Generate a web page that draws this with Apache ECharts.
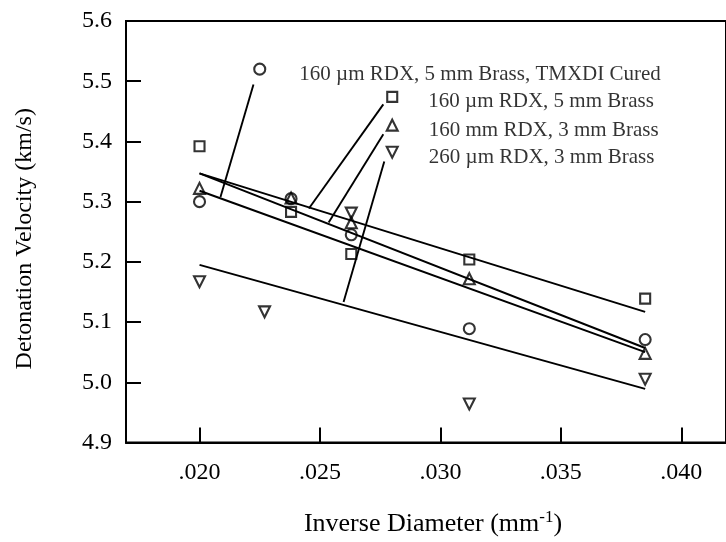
<!DOCTYPE html>
<html><head><meta charset="utf-8">
<script src="https://cdn.jsdelivr.net/npm/echarts@6/dist/echarts.min.js"></script>
<style>html,body{margin:0;padding:0;background:#fff}#c{width:726px;height:542px}</style>
</head><body><div id="c"></div>
<script>
// Inverse diameter columns (1/50, 1/42, 1/38, 1/32, 1/26 mm^-1)
const diameterX = [0.0200, 0.0238, 0.0263, 0.0312, 0.0385];
const downTriX  = [0.0200, 0.0227, 0.0263, 0.0312, 0.0385];
// Measured detonation velocities (km/s)
const squareY   = [5.392, 5.283, 5.213, 5.204, 5.139];
const triangleY = [5.322, 5.306, 5.265, 5.172, 5.048];
const circleY   = [5.300, 5.305, 5.245, 5.089, 5.071];
const downTriY  = [5.167, 5.117, 5.281, 4.964, 5.005];
// Fitted lines (end points)
const fitX        = [0.0200, 0.0385];
const fitSquare   = [5.347, 5.117];
const fitTriangle = [5.347, 5.057];
const fitCircle   = [5.318, 5.050];
const fitDownTri  = [5.195, 4.989];
// Legend annotations (in data coordinates)
const legendNames = ['160 µm RDX, 5 mm Brass, TMXDI Cured', '160 µm RDX, 5 mm Brass', '160 mm RDX, 3 mm Brass', '260 µm RDX, 3 mm Brass'];
const legendX = [0.0225, 0.0280, 0.0280, 0.0280];
const legendY = [5.520, 5.474, 5.427, 5.382];
const leaderFromX = [0.02224, 0.02763, 0.02763, 0.02767];
const leaderFromY = [5.4945, 5.4615, 5.4121, 5.3665];
const leaderToX   = [0.02087, 0.02454, 0.02536, 0.02598];
const leaderToY   = [5.3078, 5.2885, 5.2654, 5.1335];
// Axes
const xTicks = [0.020, 0.025, 0.030, 0.035, 0.040];
const xMin = 0.016948, xMax = 0.041856;
const yMin = 4.9, yMax = 5.6, yStep = 0.1;

const FONT = 'Liberation Serif';
const BLACK = '#000';
const markerStyle = {color: 'transparent', borderColor: BLACK, borderWidth: 2.1};

function pts(xs, ys) { return xs.map((x, i) => [x, ys[i]]); }
function scatter(xs, ys, symbol, rotate, size) {
  return {type: 'scatter', data: pts(xs, ys), symbol: symbol, symbolRotate: rotate,
    symbolSize: size, itemStyle: markerStyle, z: 5, silent: true};
}
function line(xs, ys, w) {
  return {type: 'line', data: pts(xs, ys), symbol: 'none', lineStyle: {color: BLACK, width: w},
    z: 3, silent: true, animation: false};
}
const legendSymbols = ['circle', 'rect', 'triangle', 'triangle'];
const legendRot = [0, 0, 0, 180];
const legendSizes = [11, 10, 11, 11];
const legendDist = [33, 30, 30, 30];

const series = [
  scatter(diameterX, squareY, 'rect', 0, 10),
  scatter(diameterX, triangleY, 'triangle', 0, 11),
  scatter(diameterX, circleY, 'circle', 0, 11),
  scatter(downTriX, downTriY, 'triangle', 180, 11),
  line(fitX, fitSquare, 2),
  line(fitX, fitTriangle, 2),
  line(fitX, fitCircle, 2),
  line(fitX, fitDownTri, 2)
];
for (let i = 0; i < leaderFromX.length; i++) {
  series.push(line([leaderFromX[i], leaderToX[i]], [leaderFromY[i], leaderToY[i]], 1.9));
}
series.push({
  type: 'scatter', silent: true, z: 6,
  data: legendX.map((x, i) => ({
    value: [x, legendY[i]], symbol: legendSymbols[i], symbolRotate: legendRot[i],
    symbolSize: legendSizes[i],
    label: {distance: legendDist[i]}
  })),
  itemStyle: markerStyle,
  label: {show: true, position: 'right', offset: [0, 5], color: BLACK, fontFamily: FONT, fontSize: 21,
    formatter: p => legendNames[p.dataIndex]}
});

const chart = echarts.init(document.getElementById('c'));
chart.setOption({
  animation: false,
  backgroundColor: '#fff',
  grid: {left: 126, right: -4, top: 21, bottom: 96, show: true, borderColor: BLACK, borderWidth: 2},
  xAxis: {
    type: 'value', min: xMin, max: xMax,
    axisLine: {show: true, lineStyle: {color: BLACK, width: 2}},
    axisTick: {show: true, inside: true, length: 15, lineStyle: {color: BLACK, width: 2}, customValues: xTicks},
    axisLabel: {customValues: xTicks, color: BLACK, fontFamily: FONT, fontSize: 24, margin: 18,
      formatter: v => v.toFixed(3).replace(/^0/, '')},
    splitLine: {show: false},
    name: 'Inverse Diameter (mm{sup|-1})', nameLocation: 'middle', nameGap: 67,
    nameTextStyle: {color: BLACK, fontFamily: FONT, fontSize: 26, padding: [0, 0, 0, 14],
      rich: {sup: {fontFamily: FONT, fontSize: 17, color: BLACK, verticalAlign: 'top', padding: [0, 0, 12, 0]}}}
  },
  yAxis: {
    type: 'value', min: yMin, max: yMax, interval: yStep,
    axisLine: {show: true, lineStyle: {color: BLACK, width: 2}},
    axisTick: {show: true, inside: true, length: 15, lineStyle: {color: BLACK, width: 2}},
    axisLabel: {color: BLACK, fontFamily: FONT, fontSize: 24, margin: 14, formatter: v => v.toFixed(1)},
    splitLine: {show: false},
    name: 'Detonation Velocity (km/s)', nameLocation: 'middle', nameGap: 89,
    nameTextStyle: {color: BLACK, fontFamily: FONT, fontSize: 24, padding: [0, 14, 0, 0]}
  },
  series: series
});
</script>
</body></html>
